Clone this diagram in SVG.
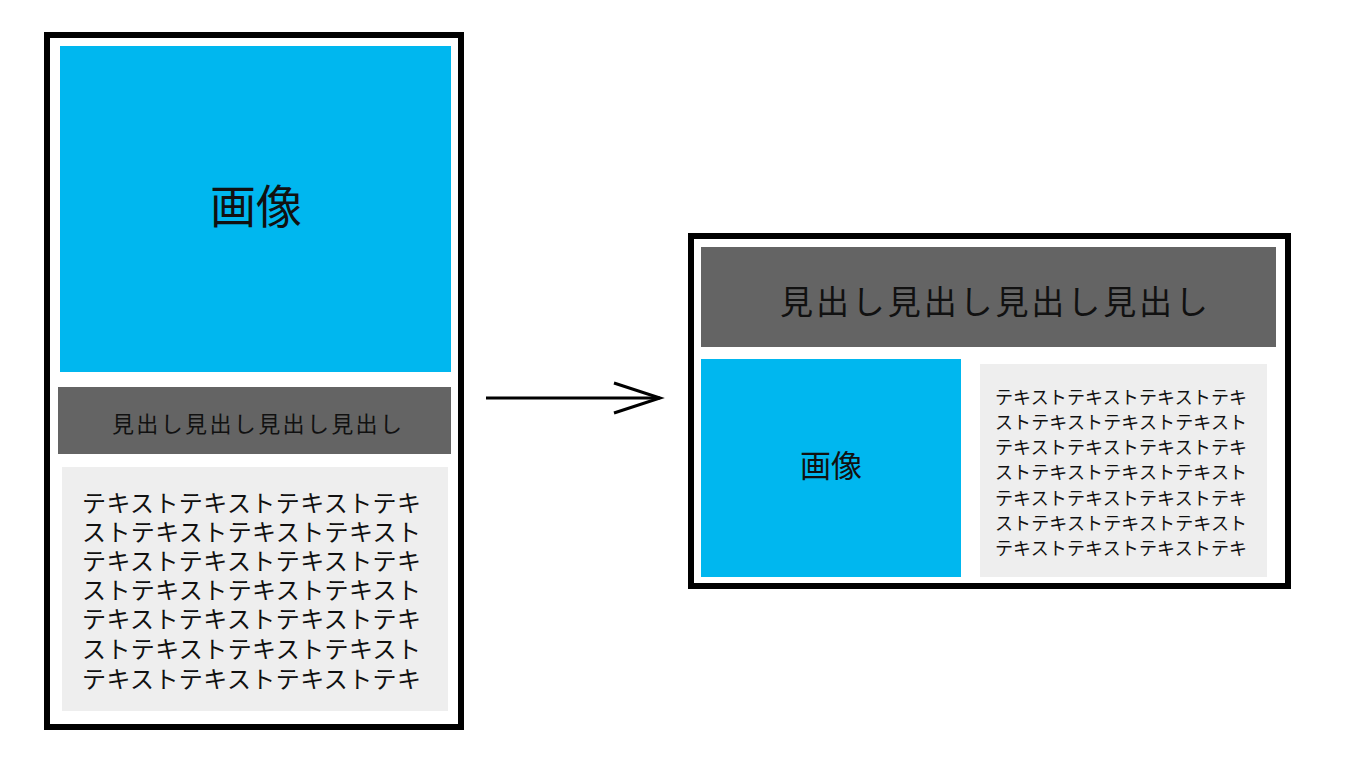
<svg xmlns="http://www.w3.org/2000/svg" width="1366" height="768" viewBox="0 0 1366 768">
<style>
.frame{fill:#fff;stroke:#000;stroke-width:6}
.img{fill:#00b7ef}
.head{fill:#646464}
.box{fill:#eeeeee}
text{font-family:"Noto Sans CJK JP","Noto Sans CJK SC",sans-serif;fill:#111}
.c{text-anchor:middle;dominant-baseline:central}
</style>
<rect width="1366" height="768" fill="#fff"/>
<g id="left-card">
<rect class="frame" x="47" y="35" width="414" height="692"/>
<rect class="img" x="60" y="46" width="391" height="326"/>
<text class="c" x="256" y="203" font-size="46">画像</text>
<rect class="head" x="58" y="387" width="393" height="67"/>
<text class="c" x="257" y="422" font-size="22" textLength="290" lengthAdjust="spacing">見出し見出し見出し見出し</text>
<rect class="box" x="62" y="467" width="386" height="244"/>
<g font-size="24">
<text x="82" y="512" textLength="339" lengthAdjust="spacing">テキストテキストテキストテキ</text>
<text x="82" y="541" textLength="339" lengthAdjust="spacing">ストテキストテキストテキスト</text>
<text x="82" y="570" textLength="339" lengthAdjust="spacing">テキストテキストテキストテキ</text>
<text x="82" y="599" textLength="339" lengthAdjust="spacing">ストテキストテキストテキスト</text>
<text x="82" y="628" textLength="339" lengthAdjust="spacing">テキストテキストテキストテキ</text>
<text x="82" y="658" textLength="339" lengthAdjust="spacing">ストテキストテキストテキスト</text>
<text x="82" y="688" textLength="339" lengthAdjust="spacing">テキストテキストテキストテキ</text>
</g>
</g>
<g id="right-card">
<rect class="frame" x="691" y="236" width="597" height="350"/>
<rect class="head" x="701" y="247" width="575" height="100"/>
<text class="c" x="994" y="300" font-size="33" textLength="428" lengthAdjust="spacing">見出し見出し見出し見出し</text>
<rect class="img" x="701" y="359" width="260" height="218"/>
<text class="c" x="831" y="463" font-size="31">画像</text>
<rect class="box" x="980" y="364" width="287" height="213"/>
<g font-size="18">
<text x="995" y="404" textLength="252" lengthAdjust="spacing">テキストテキストテキストテキ</text>
<text x="995" y="429" textLength="252" lengthAdjust="spacing">ストテキストテキストテキスト</text>
<text x="995" y="454" textLength="252" lengthAdjust="spacing">テキストテキストテキストテキ</text>
<text x="995" y="479" textLength="252" lengthAdjust="spacing">ストテキストテキストテキスト</text>
<text x="995" y="505" textLength="252" lengthAdjust="spacing">テキストテキストテキストテキ</text>
<text x="995" y="530" textLength="252" lengthAdjust="spacing">ストテキストテキストテキスト</text>
<text x="995" y="555" textLength="252" lengthAdjust="spacing">テキストテキストテキストテキ</text>
</g>
</g>
<g id="connectors" fill="none" stroke="#000" stroke-width="3">
<line x1="486" y1="398" x2="660" y2="398"/>
<polyline points="614,383 660,398 614,413"/>
</g>
</svg>
